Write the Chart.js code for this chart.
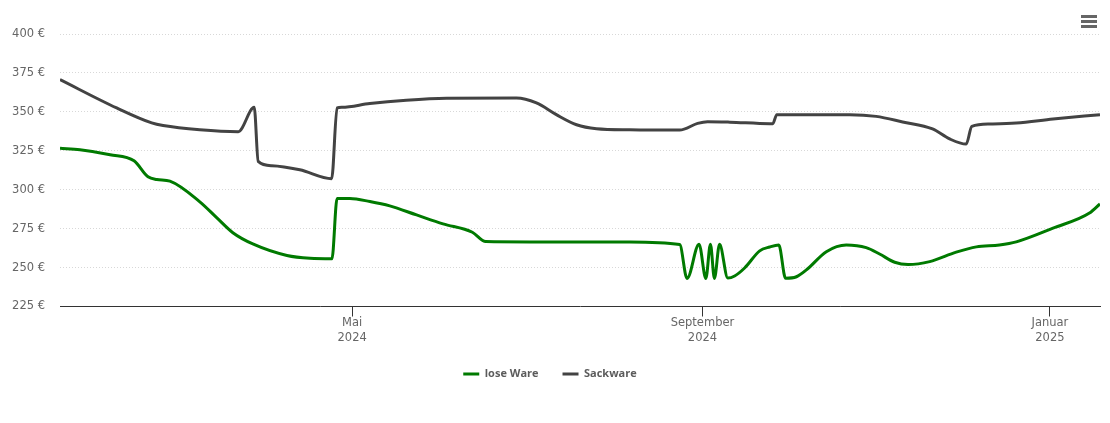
<!DOCTYPE html>
<html lang="de">
<head>
<meta charset="utf-8">
<title>Preisentwicklung</title>
<script src="https://cdn.jsdelivr.net/npm/chart.js@4/dist/chart.umd.js"></script>
<style>
  html, body { margin: 0; background: #fff; }
  canvas { display: block; }
</style>
</head>
<body>
<canvas id="chart" width="1110" height="423"></canvas>
<script>
// x values are days counted from 19 Jan 2024
const looseDays = [0.4, 7.4, 18, 26.4, 31.3, 34.4, 39, 49.5, 55.5, 61.1, 68.1, 80.1, 88.2, 95.9, 97.7, 102.2, 109.2, 116.2, 125.6, 134.9, 145.2, 149.9, 165.4, 200.5, 218, 220.6, 224.8, 227.2, 228.8, 230.2, 232, 234.9, 237.3, 240.8, 246.1, 249.6, 252.8, 255.2, 259, 262.5, 269.5, 276.5, 283.5, 288.2, 293.5, 298.2, 305.8, 315.1, 322.2, 330.3, 336.2, 349.1, 361.9, 365.6];
const looseValues = [326.6, 325.7, 322.5, 318.6, 308.3, 306.6, 305.5, 292.2, 281.9, 272.4, 265.2, 257.8, 256, 255.7, 294.3, 294.3, 292.4, 289.6, 283.8, 278.1, 272.7, 266.7, 266.5, 266.5, 264.8, 243, 265, 243, 265, 243, 265, 243.3, 244.6, 249.7, 260.7, 263.2, 264.5, 243.1, 244.1, 248.5, 260.2, 264.5, 262.8, 258.7, 253.4, 251.9, 253.8, 259.9, 263.3, 264.5, 266.5, 275.3, 285, 290.9];

const sackDays = [0.4, 20.3, 32.6, 36.6, 49.5, 63, 68.6, 70, 74.8, 84.6, 95.8, 97.7, 99.4, 109.2, 122, 136.1, 160.7, 167.7, 174.7, 181.8, 188.8, 200.5, 218, 224.3, 227.8, 235.6, 249.6, 250.7, 252.1, 277.7, 287, 296.3, 306.8, 312.8, 318.6, 320.6, 326.8, 336.2, 349.1, 365.6];
const sackValues = [370.7, 352.5, 342.9, 341.2, 338.5, 337.3, 352.9, 318.2, 315.4, 312.8, 307.1, 352.5, 352.9, 355.3, 357.4, 358.7, 358.9, 355.7, 348.2, 341.7, 339.2, 338.5, 338.3, 342.6, 343.7, 343.4, 342.4, 342.4, 348.2, 348.2, 347.1, 343.5, 339, 332.6, 329.3, 340.7, 342.2, 342.8, 345.4, 348.2];

const tickDays = [103, 226, 348];
const tickLabels = [['Mai', '2024'], ['September', '2024'], ['Januar', '2025']];

const FONT = '"DejaVu Sans", sans-serif';
const toPoints = (xs, ys) => xs.map((x, i) => ({ x, y: ys[i] }));

// hamburger button top right
const menuIconPlugin = {
  id: 'menuIcon',
  afterDraw: (chart) => {
    const c = chart.ctx;
    c.save();
    c.strokeStyle = '#666666';
    c.lineWidth = 3;
    [16.5, 21.5, 26.5].forEach((y) => {
      c.beginPath();
      c.moveTo(1081, y);
      c.lineTo(1097, y);
      c.stroke();
    });
    c.restore();
  }
};

new Chart(document.getElementById('chart'), {
  type: 'line',
  data: {
    datasets: [
      {
        label: 'lose Ware',
        data: toPoints(looseDays, looseValues),
        borderColor: '#007a00',
        backgroundColor: '#007a00',
        borderWidth: 3,
      },
      {
        label: 'Sackware',
        data: toPoints(sackDays, sackValues),
        borderColor: '#434343',
        backgroundColor: '#434343',
        borderWidth: 3,
      },
    ],
  },
  options: {
    responsive: false,
    animation: false,
    layout: { padding: { top: 34, right: 10, bottom: 33.5, left: 0 } },
    elements: {
      point: { radius: 0 },
      line: { cubicInterpolationMode: 'monotone' },
    },
    plugins: {
      tooltip: { enabled: false },
      legend: {
        position: 'bottom',
        labels: {
          usePointStyle: true,
          pointStyle: 'line',
          pointStyleWidth: 16,
          padding: 24,
          color: '#5c5c5c',
          font: { family: '"Open Sans", sans-serif', size: 11, weight: 'bold' },
        },
      },
    },
    scales: {
      x: {
        type: 'linear',
        min: 0.4,
        max: 365.6,
        afterBuildTicks: (scale) => {
          scale.ticks = tickDays.map((value) => ({ value }));
        },
        afterFit: (scale) => { scale.height = 38; },
        border: { color: '#333333', width: 1 },
        grid: { drawOnChartArea: false, tickLength: 10, tickColor: '#333333', tickWidth: 1 },
        ticks: {
          autoSkip: false,
          maxRotation: 0,
          padding: -1,
          color: '#666666',
          font: { family: FONT, size: 11.5, lineHeight: 1.3 },
          callback: (value) => tickLabels[tickDays.indexOf(value)],
        },
      },
      y: {
        min: 225,
        max: 400,
        afterFit: (scale) => { scale.width = 60; },
        border: { display: false, dash: [1, 2] },
        grid: { color: '#d8d8d8', lineWidth: 1, drawTicks: false, tickLength: 0 },
        ticks: {
          stepSize: 25,
          padding: 15,
          color: '#666666',
          font: { family: FONT, size: 11.5 },
          callback: (value) => `${value} €`,
        },
      },
    },
  },
  plugins: [menuIconPlugin],
});
</script>
</body>
</html>
